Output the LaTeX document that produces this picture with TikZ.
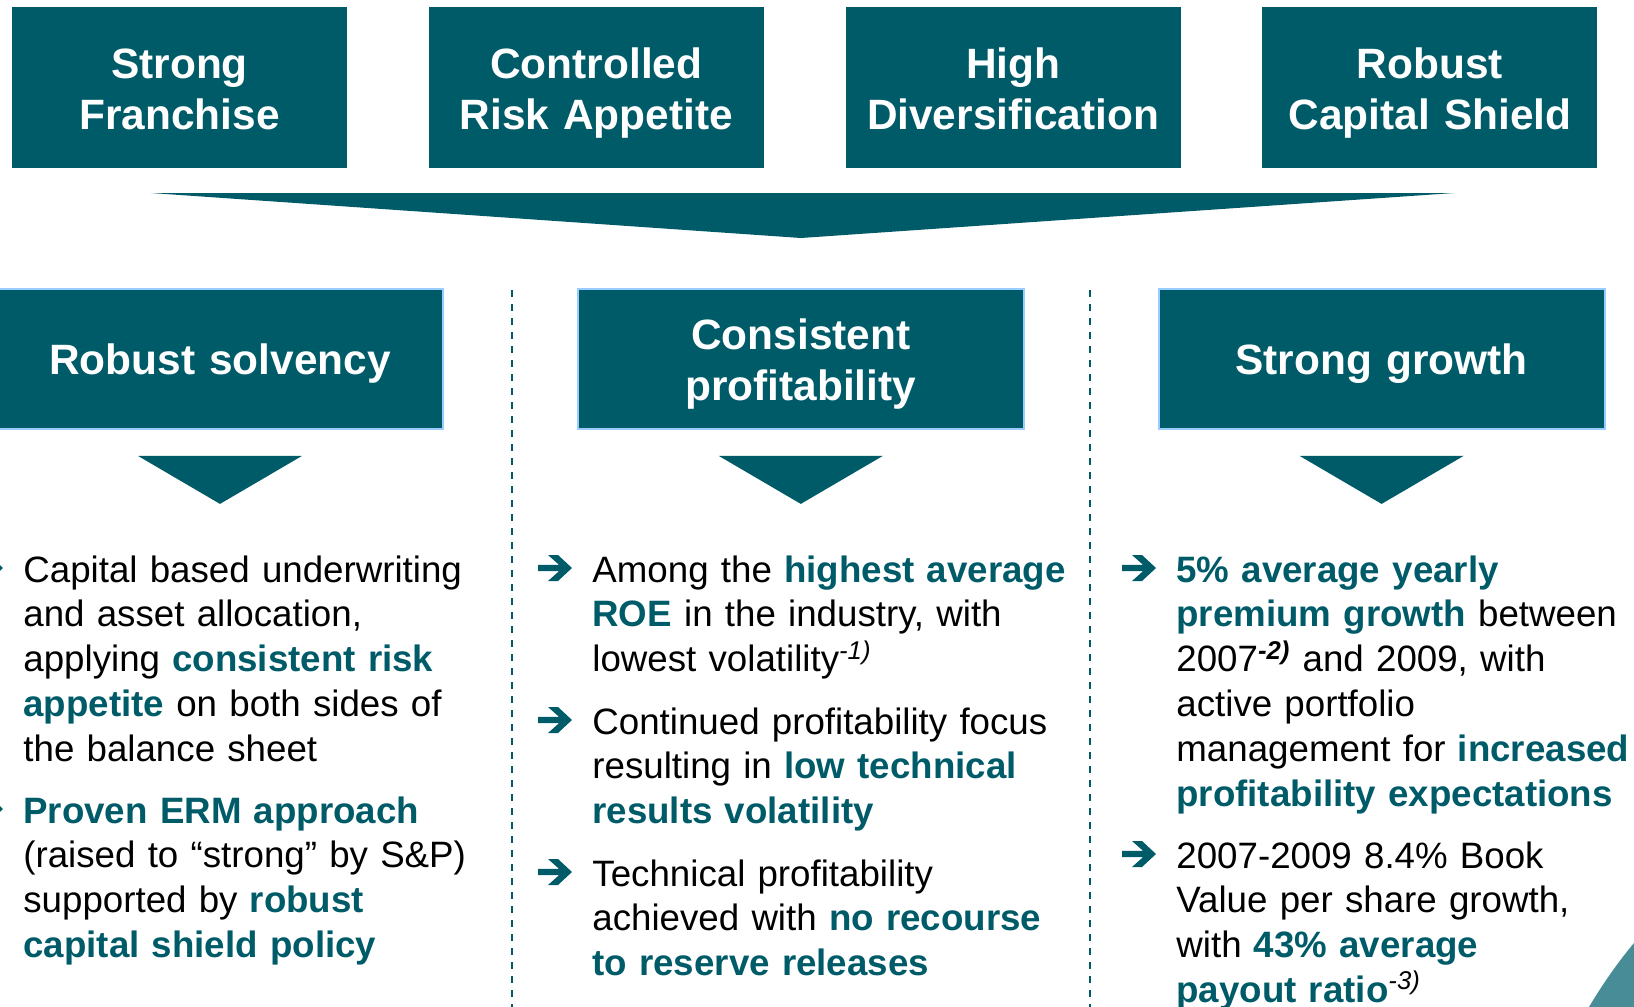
\documentclass[tikz,border=0pt]{standalone}
\usepackage{fontspec}
\setmainfont{Liberation Sans}
\usepackage{tikz}
\usetikzlibrary{positioning}

\definecolor{boxteal}{RGB}{0,91,105}
\definecolor{edgeblue}{RGB}{153,204,255}
\definecolor{swoosh}{RGB}{72,140,152}

\newcommand{\hlt}[1]{\textbf{\color{boxteal}#1}}
\newcommand{\fnote}[1]{\textsuperscript{\itshape #1}}

\tikzset{
  headbox/.style={fill=boxteal, text=white, minimum width=167.5pt, minimum height=80.5pt,
    inner sep=0pt, text width=160pt, align=center, font=\fontsize{21.2pt}{25.5pt}\selectfont\bfseries,
    text height=20pt, text depth=29.5pt},
  pillarbox/.style={headbox, draw=edgeblue, line width=0.9pt, minimum width=223pt, minimum height=70pt,
    text width=215pt, text depth=4.5pt},
  twoline/.style={text depth=29.5pt},
  bultext/.style={anchor=base west, inner sep=0pt, text width=260pt, align=left,
    font=\fontsize{18.35pt}{22.4pt}\selectfont},
  divider/.style={boxteal, dash pattern=on 3.5pt off 3.5pt, line width=1pt}
}

\begin{document}
\begin{tikzpicture}[x=0.5pt,y=-0.5pt]
  \useasboundingbox (0,0) rectangle (1634,1007);

  % four pillars
  \node[headbox] (hb1) at (179.5,87.5) {Strong\\Franchise};
  \node[headbox, right=40.5pt of hb1] (hb2) {Controlled\\Risk Appetite};
  \node[headbox, right=40.5pt of hb2] (hb3) {High\\Diversification};
  \node[headbox, right=40.5pt of hb3] (hb4) {Robust\\Capital Shield};

  % wide arrow
  \fill[boxteal] (151,193) -- (1454,193) -- (801,238) -- cycle;

  % results
  \node[pillarbox] (sA) at (220,359) {Robust solvency};
  \node[pillarbox, twoline, right=66.5pt of sA] (sB) {Consistent\\profitability};
  \node[pillarbox, right=66.5pt of sB] (sC) {Strong growth};

  \foreach \b in {sA,sB,sC}
    \fill[boxteal, shift={(\b.south)}] (-82,26) -- (82,26) -- (0,74) -- cycle;

  \draw[divider] (512,290) -- (512,1007);
  \draw[divider] (1090,290) -- (1090,1007);

  % bullets
  \node[bultext] (L1) at (23,582) {Capital based underwriting\\and asset allocation,\\applying \hlt{consistent risk}\\\hlt{appetite} on both sides of\\the balance sheet};
  \node[bultext] (L2) at (23,823) {\hlt{Proven ERM approach}\\(raised to “strong” by S\&P)\\supported by \hlt{robust}\\\hlt{capital shield policy}};

  \node[bultext] (M1) at (592,582) {Among the \hlt{highest average}\\\hlt{ROE} in the industry, with\\lowest volatility\fnote{-1)}};
  \node[bultext] (M2) at (592,734) {Continued profitability focus\\resulting in \hlt{low technical}\\\hlt{results volatility}};
  \node[bultext] (M3) at (592,886) {Technical profitability\\achieved with \hlt{no recourse}\\\hlt{to reserve releases}};

  \node[bultext] (R1) at (1176,582) {\hlt{5\% average yearly}\\\hlt{premium growth} between\\2007\textsuperscript{\bfseries\itshape -2)} and 2009, with\\active portfolio\\management for \hlt{increased}\\\hlt{profitability expectations}};
  \node[bultext] (R2) at (1176,868) {2007-2009 8.4\% Book\\Value per share growth,\\with \hlt{43\% average}\\\hlt{payout ratio}\fnote{-3)}};

  % arrow bullets
  \foreach \n in {L1,L2,M1,M2,M3,R1,R2}
    \fill[boxteal, shift={([xshift=-10pt,yshift=7pt]\n.base west)}]
      (-34,-3.2) -- (-13,-3.2) -- (-24,-13) -- (-14,-13) -- (0,0)
      -- (-14,13) -- (-24,13) -- (-13,3.2) -- (-34,3.2) -- cycle;

  % corner
  \fill[swoosh] (1634,943) .. controls (1618,962) and (1602,985) .. (1589,1007) -- (1634,1007) -- cycle;
\end{tikzpicture}
\end{document}
